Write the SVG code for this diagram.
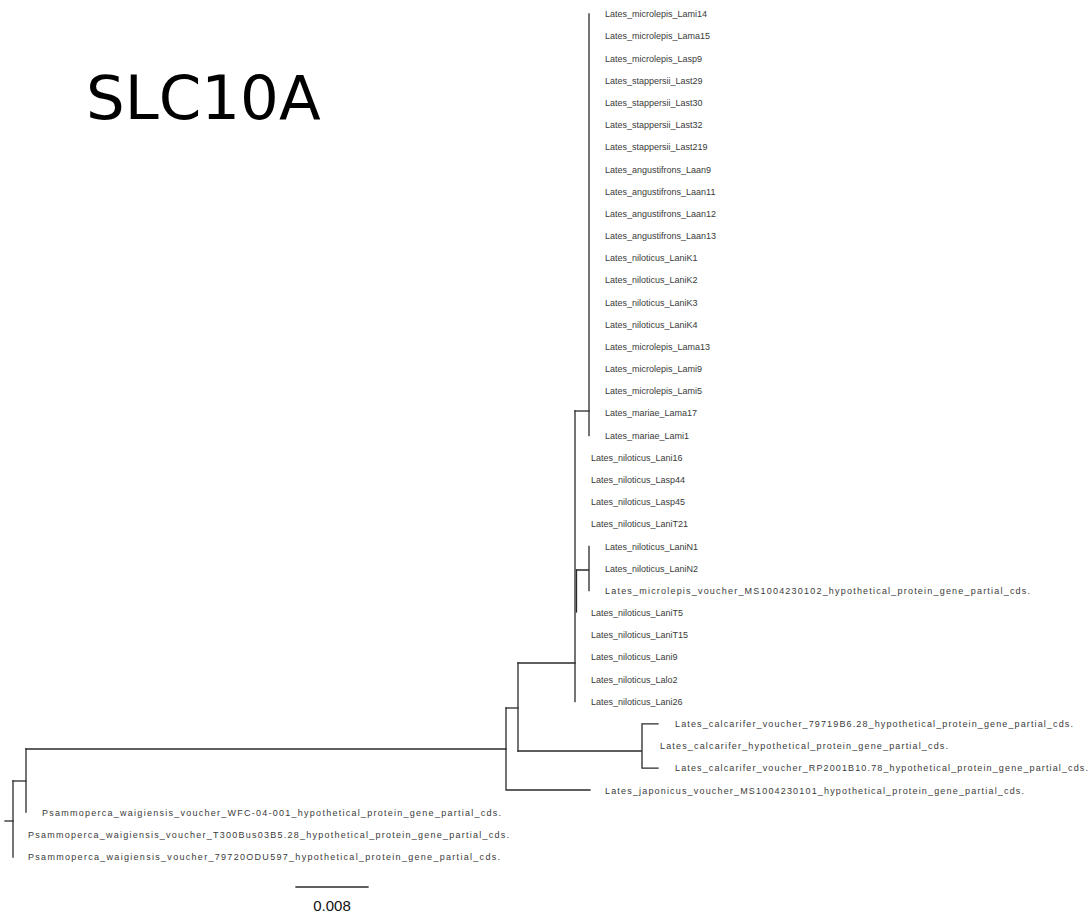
<svg xmlns="http://www.w3.org/2000/svg" width="1091" height="913" viewBox="0 0 1091 913">
<style>
.e{stroke:#2a2a2a;stroke-width:1.3;fill:none;stroke-linecap:square}
.t{font-family:"Liberation Sans",Arial,sans-serif;font-size:9px;fill:#3a3a3a}
.title{font-family:"DejaVu Sans",Verdana,sans-serif;font-size:61px;fill:#000}
.sc{font-family:"Liberation Sans",Arial,sans-serif;font-size:15px;fill:#111}
</style>
<rect width="1091" height="913" fill="#fff"/>
<text class="title" x="86" y="119">SLC10A</text>
<g id="connectors">
<path class="e" d="M589 14V435.5"/>
<path class="e" d="M575 411H589"/>
<path class="e" d="M575 411V701.6"/>
<path class="e" d="M576.5 570H589M589 546.3V590.7"/>
<path class="e" d="M576.5 570V612" stroke-width="2"/>
<path class="e" d="M518 663H575"/>
<path class="e" d="M518 663V751"/>
<path class="e" d="M518 751H642M642 723.8V768.1M642 723.8H658M642 768.1H658"/>
<path class="e" d="M506 708H518"/>
<path class="e" d="M506 708V790H590"/>
<path class="e" d="M26 749H506"/>
<path class="e" d="M26 749V812"/>
<path class="e" d="M13 781H26"/>
<path class="e" d="M13 781V857"/>
<path class="e" d="M5 821H13"/>
</g>
<g id="leaves">
<g id="n1"><text class="t" x="605" y="17.2">Lates_microlepis_Lami14</text></g>
<g id="n2"><text class="t" x="605" y="39.4">Lates_microlepis_Lama15</text></g>
<g id="n3"><text class="t" x="605" y="61.6">Lates_microlepis_Lasp9</text></g>
<g id="n4"><text class="t" x="605" y="83.7">Lates_stappersii_Last29</text></g>
<g id="n5"><text class="t" x="605" y="105.9">Lates_stappersii_Last30</text></g>
<g id="n6"><text class="t" x="605" y="128.1">Lates_stappersii_Last32</text></g>
<g id="n7"><text class="t" x="605" y="150.3">Lates_stappersii_Last219</text></g>
<g id="n8"><text class="t" x="605" y="172.5">Lates_angustifrons_Laan9</text></g>
<g id="n9"><text class="t" x="605" y="194.6">Lates_angustifrons_Laan11</text></g>
<g id="n10"><text class="t" x="605" y="216.8">Lates_angustifrons_Laan12</text></g>
<g id="n11"><text class="t" x="605" y="239.0">Lates_angustifrons_Laan13</text></g>
<g id="n12"><text class="t" x="605" y="261.2">Lates_niloticus_LaniK1</text></g>
<g id="n13"><text class="t" x="605" y="283.4">Lates_niloticus_LaniK2</text></g>
<g id="n14"><text class="t" x="605" y="305.5">Lates_niloticus_LaniK3</text></g>
<g id="n15"><text class="t" x="605" y="327.7">Lates_niloticus_LaniK4</text></g>
<g id="n16"><text class="t" x="605" y="349.9">Lates_microlepis_Lama13</text></g>
<g id="n17"><text class="t" x="605" y="372.1">Lates_microlepis_Lami9</text></g>
<g id="n18"><text class="t" x="605" y="394.3">Lates_microlepis_Lami5</text></g>
<g id="n19"><text class="t" x="605" y="416.4">Lates_mariae_Lama17</text></g>
<g id="n20"><text class="t" x="605" y="438.6">Lates_mariae_Lami1</text></g>
<g id="n21"><text class="t" x="591" y="460.8">Lates_niloticus_Lani16</text></g>
<g id="n22"><text class="t" x="591" y="483.0">Lates_niloticus_Lasp44</text></g>
<g id="n23"><text class="t" x="591" y="505.2">Lates_niloticus_Lasp45</text></g>
<g id="n24"><text class="t" x="591" y="527.3">Lates_niloticus_LaniT21</text></g>
<g id="n25"><text class="t" x="605" y="549.5">Lates_niloticus_LaniN1</text></g>
<g id="n26"><text class="t" x="605" y="571.7">Lates_niloticus_LaniN2</text></g>
<g id="n27"><text class="t" x="605" y="593.9" textLength="425" lengthAdjust="spacing">Lates_microlepis_voucher_MS1004230102_hypothetical_protein_gene_partial_cds.</text></g>
<g id="n28"><text class="t" x="591" y="616.1">Lates_niloticus_LaniT5</text></g>
<g id="n29"><text class="t" x="591" y="638.2">Lates_niloticus_LaniT15</text></g>
<g id="n30"><text class="t" x="591" y="660.4">Lates_niloticus_Lani9</text></g>
<g id="n31"><text class="t" x="591" y="682.6">Lates_niloticus_Lalo2</text></g>
<g id="n32"><text class="t" x="591" y="704.8">Lates_niloticus_Lani26</text></g>
<g id="n33"><text class="t" x="675" y="727.0" textLength="398" lengthAdjust="spacing">Lates_calcarifer_voucher_79719B6.28_hypothetical_protein_gene_partial_cds.</text></g>
<g id="n34"><text class="t" x="660" y="749.1" textLength="288" lengthAdjust="spacing">Lates_calcarifer_hypothetical_protein_gene_partial_cds.</text></g>
<g id="n35"><text class="t" x="675" y="771.3" textLength="413" lengthAdjust="spacing">Lates_calcarifer_voucher_RP2001B10.78_hypothetical_protein_gene_partial_cds.</text></g>
<g id="n36"><text class="t" x="605" y="793.5" textLength="419" lengthAdjust="spacing">Lates_japonicus_voucher_MS1004230101_hypothetical_protein_gene_partial_cds.</text></g>
<g id="n37"><text class="t" x="42" y="815.7" textLength="459" lengthAdjust="spacing">Psammoperca_waigiensis_voucher_WFC-04-001_hypothetical_protein_gene_partial_cds.</text></g>
<g id="n38"><text class="t" x="28" y="837.9" textLength="481" lengthAdjust="spacing">Psammoperca_waigiensis_voucher_T300Bus03B5.28_hypothetical_protein_gene_partial_cds.</text></g>
<g id="n39"><text class="t" x="28" y="860.0" textLength="472" lengthAdjust="spacing">Psammoperca_waigiensis_voucher_79720ODU597_hypothetical_protein_gene_partial_cds.</text></g>
</g>
<g id="scalebar">
<path class="e" d="M296 887H368"/>
<text class="sc" x="332" y="911" text-anchor="middle">0.008</text>
</g>
</svg>
